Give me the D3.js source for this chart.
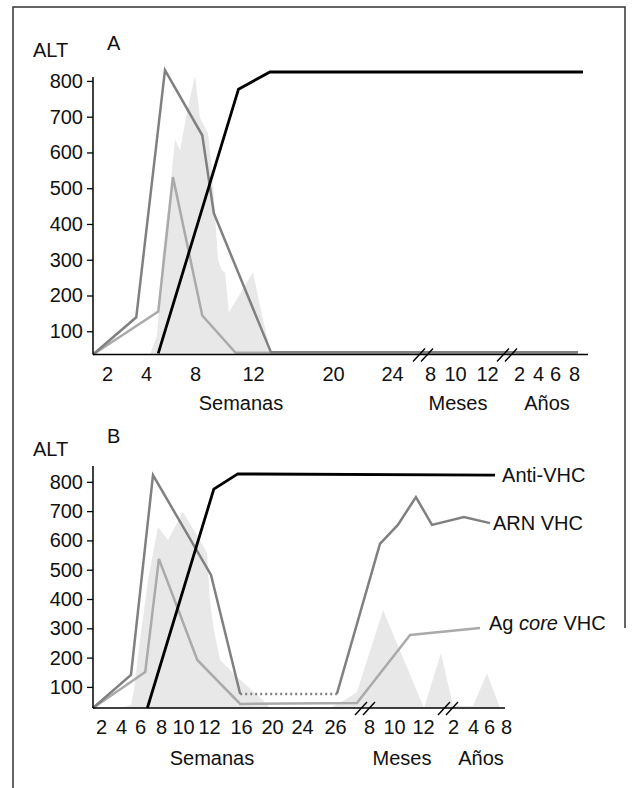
<!DOCTYPE html>
<html><head><meta charset="utf-8">
<script src="https://cdn.jsdelivr.net/npm/d3@7"></script>
<style>
body{margin:0;background:#fff}
svg{display:block}
text{font-family:"Liberation Sans",Arial,Helvetica,sans-serif;font-size:20px;fill:#111}
</style>
</head><body>
<svg id="chart" width="632" height="788"></svg>
<script>
// ---------- DATA (x in weeks since infection, y = ALT / marker level) ----------
const yTickValues = [100, 200, 300, 400, 500, 600, 700, 800];

// Panel A – resolved acute infection
const aTickWeeks  = [2, 4, 8, 12, 20, 24, 35, 43, 52, 104, 208, 312, 416];
const aTickLabels = ["2", "4", "8", "12", "20", "24", "8", "10", "12", "2", "4", "6", "8"];
const aUnitLabels = ["Semanas", "Meses", "Años"];
const aArnWeeks   = [0, 3.5, 5.55, 8.5, 9.3, 13.8, 438];
const aArnValues  = [35, 139, 830, 648, 430, 41, 41];
const aAgWeeks    = [0, 5.0, 6.2, 8.5, 10.8, 438];
const aAgValues   = [35, 155, 531, 144, 40, 40];
const aAntiWeeks  = [5.0, 11.0, 13.7, 465];
const aAntiValues = [38, 777, 825, 825];
const aAltWeeks   = [4.33, 4.9, 5.31, 5.96, 6.37, 6.78, 7.35, 8.0, 8.34, 8.9, 9.17, 9.59, 9.86, 10.07, 10.34, 12.0, 12.9, 13.5, 13.8];
const aAltValues  = [35, 88, 298, 494, 637, 606, 713, 816, 696, 654, 550, 298, 270, 265, 153, 265, 144, 74, 35];

// Panel B – chronic infection
const bTickWeeks  = [2, 4, 6, 8, 10, 12, 16, 20, 24, 26, 35, 43, 52, 104, 208, 312, 416];
const bTickLabels = ["2", "4", "6", "8", "10", "12", "16", "20", "24", "26", "8", "10", "12", "2", "4", "6", "8"];
const bUnitLabels = ["Semanas", "Meses", "Años"];
const bArnWeeks   = [0, 5.05, 7.24, 12.25, 15.9, 26.5, 38.5, 44.2, 49.8, 67.6, 161, 318];
const bArnValues  = [28, 141, 823, 482, 76, 76, 588, 653, 748, 653, 680, 659];
const bArnDotted  = [4, 5];   // segment between these indices is dotted
const bAgWeeks    = [0, 6.5, 7.8, 11.1, 15.9, 31.8, 48.0, 253.5];
const bAgValues   = [28, 151, 537, 192, 42, 45, 277, 301];
const bAntiWeeks  = [6.7, 12.6, 15.6, 349];
const bAntiValues = [28, 775, 827, 823];
const bAltWeeks   = [3.9, 5.05, 5.37, 6.0, 6.76, 7.71, 8.64, 10.0, 11.3, 11.85, 12.1, 12.6, 13.4, 15.25, 18.8, 19.7,
                     25.7, 28.6, 31.8, 39.5, 53.7, 83.2, 104, 208, 299, 379];
const bAltValues  = [28, 38, 89, 260, 465, 646, 601, 697, 601, 557, 397, 294, 192, 141, 55, 28,
                     28, 55, 83, 362, 28, 216, 35, 35, 147, 28];
const seriesNames = ["Anti-VHC", "ARN VHC", "Ag core VHC"];

// ---------- LAYOUT ----------
const COL = {alt: "#e8e8e8", arn: "#808080", ag: "#aaaaaa", anti: "#000"};
const panels = [
  { id: "A", x0: 93, axisLen: 495, yBase: 354.5, yTop: 77, yDomain: [35, 811],
    knots: [0, 2, 4, 8, 12, 20, 24, 35, 43, 52, 104, 208, 312, 416],
    knotPos: [0, 14, 53, 102, 160, 240, 299, 337, 362, 394, 426, 445, 462, 481],
    tickWeeks: aTickWeeks, tickLabels: aTickLabels, units: aUnitLabels,
    unitX: [241, 458, 547], unitY: 410, breaks: [423, 507],
    altLayers: [[aAltWeeks, aAltValues]],
    arn: [aArnWeeks, aArnValues], ag: [aAgWeeks, aAgValues], anti: [aAntiWeeks, aAntiValues],
    altLabelY: 57, letterY: 50, legend: false },
  { id: "B", x0: 93, axisLen: 412, yBase: 708, yTop: 466, yDomain: [28, 854],
    knots: [0, 2, 4, 6, 8, 10, 12, 16, 20, 24, 26, 35, 43, 52, 104, 208, 312, 416],
    knotPos: [0, 8, 28, 47, 68, 90, 116, 148, 179, 209, 242, 276, 301, 330, 360, 380, 396, 413],
    tickWeeks: bTickWeeks, tickLabels: bTickLabels, units: bUnitLabels,
    unitX: [212, 402, 481], unitY: 765, breaks: [365, 448],
    altLayers: [[bAltWeeks, bAltValues]],
    arn: [bArnWeeks, bArnValues], ag: [bAgWeeks, bAgValues], anti: [bAntiWeeks, bAntiValues],
    altLabelY: 456, letterY: 443, legend: true }
];

const svg = d3.select("#chart");

// frame
svg.append("path")
  .attr("d", d3.line()([[13, 788], [13, 7], [625, 7], [625, 628]]))
  .attr("fill", "none").attr("stroke", "#333").attr("stroke-width", 1.5);

const zip = (w, v) => w.map((d, i) => ({w: d, v: v[i]}));

panels.forEach(p => {
  const x = d3.scaleLinear().domain(p.knots).range(p.knotPos.map(d => p.x0 + d));
  const y = d3.scaleLinear().domain(p.yDomain).range([p.yBase, p.yTop]);
  const g = svg.append("g");

  // ALT shaded area
  const area = d3.area().x(d => x(d.w)).y0(y(p.yDomain[0])).y1(d => y(d.v));
  p.altLayers.forEach(([w, v]) => {
    g.append("path").attr("d", area(zip(w, v))).attr("fill", COL.alt);
  });

  const line = d3.line().x(d => x(d.w)).y(d => y(d.v));
  const drawLine = (pts, color, width, dash) => {
    const el = g.append("path").attr("d", line(pts)).attr("fill", "none")
      .attr("stroke", color).attr("stroke-width", width).attr("stroke-linejoin", "miter");
    if (dash) el.attr("stroke-dasharray", dash);
  };

  drawLine(zip(...p.ag), COL.ag, 2.5);
  const arnPts = zip(...p.arn);
  if (p.id === "B") {
    drawLine(arnPts.slice(0, bArnDotted[0] + 1), COL.arn, 2.5);
    drawLine(arnPts.slice(bArnDotted[0], bArnDotted[1] + 1), COL.arn, 2.5, "2,3");
    drawLine(arnPts.slice(bArnDotted[1]), COL.arn, 2.5);
  } else {
    drawLine(arnPts, COL.arn, 2.5);
  }
  drawLine(zip(...p.anti), COL.anti, 2.8);

  // Y axis
  const yAx = g.append("g").attr("transform", `translate(${p.x0},0)`)
    .call(d3.axisLeft(y).tickValues(yTickValues).tickSize(6).tickSizeOuter(0).tickPadding(4));
  yAx.select(".domain").remove();
  yAx.selectAll("line").attr("stroke", "#000").attr("stroke-width", 1.3);
  yAx.selectAll("text").attr("font-size", 20).attr("fill", "#111").attr("font-family", null);
  g.append("line").attr("x1", p.x0).attr("x2", p.x0).attr("y1", p.yTop).attr("y2", p.yBase)
    .attr("stroke", "#000").attr("stroke-width", 1.5);

  // X axis
  const xAx = g.append("g").attr("transform", `translate(0,${p.yBase})`)
    .call(d3.axisBottom(x).tickValues(p.tickWeeks).tickSize(0).tickPadding(12)
      .tickFormat((d, i) => p.tickLabels[i]));
  xAx.select(".domain").remove();
  xAx.selectAll("text").attr("font-size", 20).attr("fill", "#111").attr("font-family", null);
  g.append("line").attr("x1", p.x0).attr("x2", p.x0 + p.axisLen).attr("y1", p.yBase).attr("y2", p.yBase)
    .attr("stroke", "#000").attr("stroke-width", 1.5);

  // axis breaks //
  p.breaks.forEach(cx => {
    [-4, 4].forEach(off => {
      g.append("line")
        .attr("x1", cx + off - 6).attr("y1", p.yBase + 7)
        .attr("x2", cx + off + 6).attr("y2", p.yBase - 6)
        .attr("stroke", "#000").attr("stroke-width", 1.4);
    });
  });

  // unit labels
  p.units.forEach((u, i) => {
    g.append("text").attr("x", p.unitX[i]).attr("y", p.unitY).attr("text-anchor", "middle").text(u);
  });

  // ALT label & panel letter
  g.append("text").attr("x", 33).attr("y", p.altLabelY).text("ALT");
  g.append("text").attr("x", 107).attr("y", p.letterY).text(p.id);

  if (p.legend) {
    const antiLast = p.anti[0].length - 1, arnLast = p.arn[0].length - 1, agLast = p.ag[0].length - 1;
    const lx = [x(p.anti[0][antiLast]) + 7, x(p.arn[0][arnLast]) + 3, x(p.ag[0][agLast]) + 9];
    const ly = [y(p.anti[1][antiLast]), y(p.arn[1][arnLast]), y(p.ag[1][agLast])];
    g.append("text").attr("x", lx[0]).attr("y", ly[0]).attr("dy", "0.35em").text(seriesNames[0]);
    g.append("text").attr("x", lx[1]).attr("y", ly[1]).attr("dy", "0.35em").text(seriesNames[1]);
    const t = g.append("text").attr("x", lx[2]).attr("y", ly[2]).attr("dy", "0.1em");
    const parts = seriesNames[2].split(" ");
    t.append("tspan").text(parts[0] + " ");
    t.append("tspan").attr("font-style", "italic").text(parts[1]);
    t.append("tspan").text(" " + parts[2]);
  }
});
</script>
</body></html>
